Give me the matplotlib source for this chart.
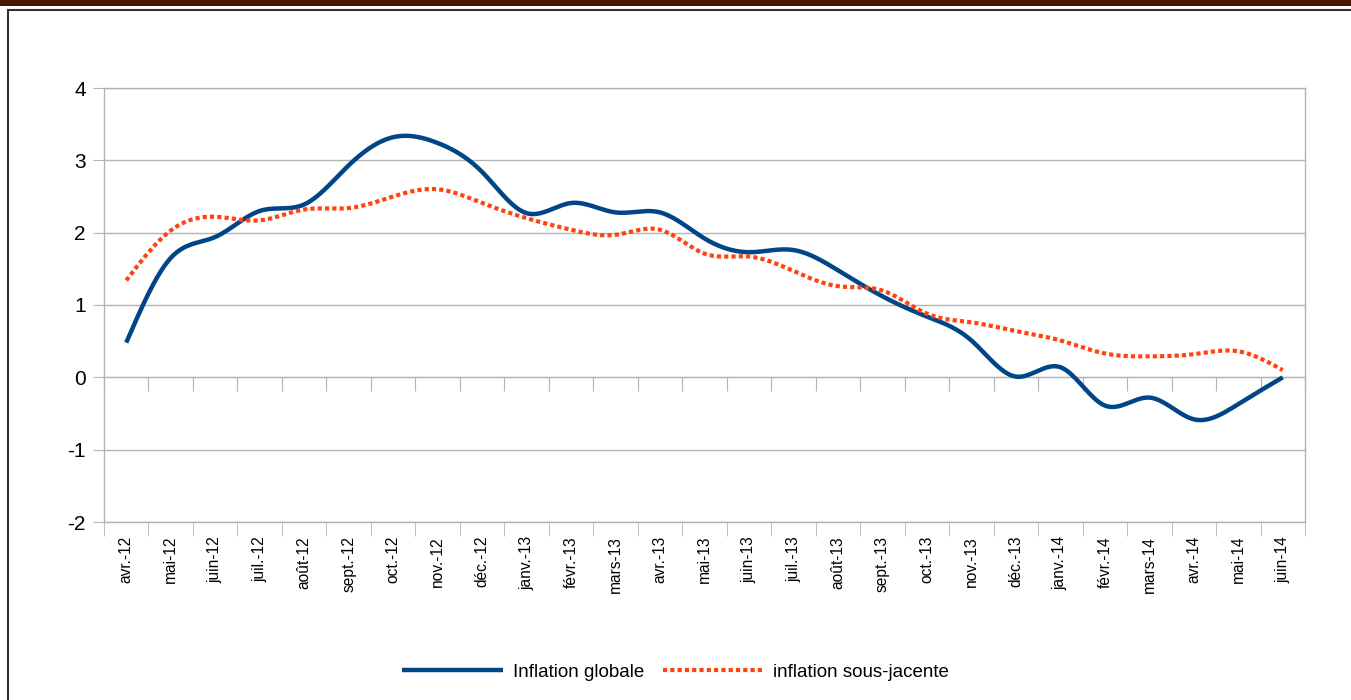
import numpy as np
import matplotlib
matplotlib.use("Agg")
import matplotlib.pyplot as plt
from matplotlib.patches import Rectangle

plt.rcParams['font.family'] = ['Liberation Sans', 'DejaVu Sans']

months = ['avr.-12', 'mai-12', 'juin-12', 'juil.-12', 'août-12', 'sept.-12', 'oct.-12',
          'nov.-12', 'déc.-12', 'janv.-13', 'févr.-13', 'mars-13', 'avr.-13', 'mai-13',
          'juin-13', 'juil.-13', 'août-13', 'sept.-13', 'oct.-13', 'nov.-13', 'déc.-13',
          'janv.-14', 'févr.-14', 'mars-14', 'avr.-14', 'mai-14', 'juin-14']
globale = [0.48, 1.65, 1.94, 2.30, 2.39, 2.93, 3.32, 3.24, 2.84, 2.27, 2.41, 2.28, 2.28, 1.92,
           1.73, 1.76, 1.48, 1.12, 0.84, 0.51, 0.01, 0.14, -0.39, -0.28, -0.58, -0.37, 0.0]
sous_jacente = [1.34, 2.03, 2.22, 2.17, 2.32, 2.34, 2.50, 2.60, 2.41, 2.20, 2.04, 1.97, 2.04, 1.71,
                1.67, 1.47, 1.26, 1.20, 0.88, 0.76, 0.64, 0.51, 0.33, 0.29, 0.32, 0.36, 0.10]


def smooth(y, n=20):
    # natural cubic spline through the points (like the spreadsheet "smooth line")
    y = np.asarray(y, float)
    k = len(y)
    A = np.zeros((k, k))
    r = np.zeros(k)
    A[0, 0] = A[-1, -1] = 1
    for i in range(1, k - 1):
        A[i, i - 1], A[i, i], A[i, i + 1] = 1, 4, 1
        r[i] = 6 * (y[i + 1] - 2 * y[i] + y[i - 1])
    m = np.linalg.solve(A, r)
    xs, ys = [], []
    for i in range(k - 1):
        t = np.linspace(0, 1, n, endpoint=False)
        a, b = 1 - t, t
        yy = a * y[i] + b * y[i + 1] + ((a ** 3 - a) * m[i] + (b ** 3 - b) * m[i + 1]) / 6
        xs.append(i + t)
        ys.append(yy)
    xs.append([k - 1])
    ys.append([y[-1]])
    return np.concatenate(xs), np.concatenate(ys)


fig = plt.figure(figsize=(13.51, 7.0), dpi=100)
fig.patch.set_facecolor('white')

# top band and frame
fig.add_artist(Rectangle((0, 1 - 6 / 700), 1, 6 / 700, transform=fig.transFigure,
                         facecolor='#4a1700', edgecolor='none'))
fig.add_artist(Rectangle((8 / 1351, -0.01), 1.0, 1 - 10 / 700 + 0.01, transform=fig.transFigure,
                         facecolor='none', edgecolor='#333333', lw=1.5))

ax = fig.add_axes([104 / 1351, 1 - 522 / 700, (1305 - 104) / 1351, (522 - 88) / 700])
x = np.arange(len(months))

gx, gy = smooth(globale)
sx, sy = smooth(sous_jacente)
ax.plot(gx, gy, color='#004586', lw=3.2, solid_capstyle='butt', label='Inflation globale', zorder=3)
ax.plot(sx, sy, color='#ff420e', lw=3.0, linestyle=(0, (1, 0.75)), dash_capstyle='butt',
        label='inflation sous-jacente', zorder=4)

ax.set_xlim(-0.5, len(months) - 0.5)
ax.set_ylim(-2, 4)
ax.set_yticks(range(-2, 5))
ax.set_yticklabels([str(v) for v in range(-2, 5)], fontsize=15)
ax.yaxis.grid(True, color='#b3b3b3', lw=1)
ax.set_axisbelow(True)

ax.set_xticks(x)
ax.set_xticklabels(months, rotation=90, fontsize=11.2)
ax.set_xticks(np.arange(-0.5, len(months)), minor=True)
ax.tick_params(axis='x', which='major', length=0, pad=10)
ax.tick_params(axis='x', which='minor', length=10, color='#b3b3b3', direction='out')
ax.tick_params(axis='y', length=8, color='#b3b3b3', pad=5)

for s in ax.spines.values():
    s.set_color('#b3b3b3')
    s.set_linewidth(1)

# x axis crossing at zero
sec = ax.secondary_xaxis(1 / 3)
sec.set_xticks(np.arange(-0.5, len(months)))
sec.tick_params(axis='x', length=10, color='#b3b3b3', direction='out', labelbottom=False,
                labeltop=False, bottom=True, top=False)
sec.spines['top'].set_visible(False)
sec.spines['bottom'].set_color('#b3b3b3')
sec.xaxis.set_ticks_position('bottom')
sec.set_xticklabels([])

fig.legend(loc='center', bbox_to_anchor=(0.5, 1 - 672 / 700), ncol=2, frameon=False,
           fontsize=13.5, handlelength=5.4, columnspacing=1.0, handletextpad=0.5)

plt.savefig('out.png', dpi=100)
